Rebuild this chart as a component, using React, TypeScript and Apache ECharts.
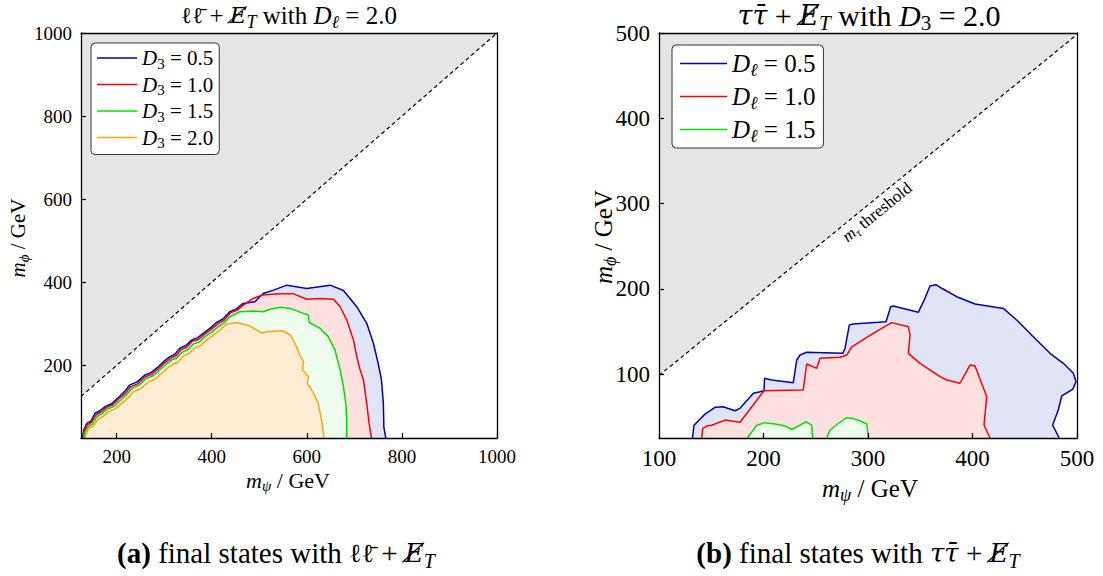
import React, { useEffect, useRef } from "react";
import * as echarts from "echarts";

const FONT = "Liberation Serif";
const MATH = "DejaVu Serif";

// ---------- axes ----------
const leftXRange = [125, 1000];
const leftYRange = [25, 1000];
const rightXRange = [100, 500];
const rightYRange = [25, 500];
const leftXTicks = [200, 400, 600, 800, 1000];
const leftYTicks = [200, 400, 600, 800, 1000];
const rightXTicks = [100, 200, 300, 400, 500];
const rightYTicks = [100, 200, 300, 400, 500];

// thresholds
const leftThreshold = [[125, 125], [1000, 1000]];
const rightThreshold = [[100, 98.2], [500, 498.2]];

// ---------- left panel: ll + MET, D_l = 2.0 ----------
const leftLevels = ["0.5", "1.0", "1.5", "2.0"];
const llD05 = [
  [128, 25], [131, 44], [137, 60], [146, 66], [154, 84], [164, 90], [175, 100], [190, 108], [207, 126],
  [216, 136], [228, 153], [243, 160], [260, 177], [273, 183], [288, 197], [300, 210],
  [312, 221], [322, 226], [333, 241], [346, 248], [358, 261], [370, 266], [382, 277], [396, 289], [410, 303],
  [424, 312], [438, 329], [452, 336], [466, 349], [491, 353],
  [508, 373], [530, 381], [558, 393], [600, 385], [649, 393], [677, 380], [705, 341], [726, 301],
  [740, 253], [750, 205], [757, 165], [761, 108], [762, 52], [766, 25],
];
const llD10 = [
  [129, 25], [132, 42], [138, 56], [147, 63], [156, 80], [166, 87], [178, 98], [192, 105], [208, 123],
  [218, 132], [229, 148], [245, 156], [261, 173], [275, 179], [289, 193], [301, 206],
  [314, 217], [324, 222], [335, 237], [348, 244], [359, 258], [372, 262], [384, 274], [398, 286], [412, 299],
  [426, 309], [440, 327], [454, 333], [466, 345], [487, 361],
  [505, 369], [544, 372], [572, 372], [600, 359], [628, 361], [656, 359], [670, 341], [684, 309],
  [698, 261], [705, 221], [712, 189], [719, 165], [726, 108], [731, 60], [736, 25],
];
const llD15 = [
  [131, 25], [134, 40], [140, 52], [149, 59], [158, 76], [168, 83], [179, 94], [194, 101], [211, 119],
  [220, 128], [232, 145], [247, 152], [263, 169], [277, 175], [291, 189], [303, 202],
  [316, 213], [326, 217], [337, 231], [350, 238], [361, 251], [374, 256], [386, 269], [400, 280], [414, 293],
  [426, 302], [438, 317], [459, 329], [487, 331],
  [508, 329], [523, 335], [544, 340], [565, 337], [593, 325], [603, 321], [605, 303], [628, 289],
  [645, 269], [659, 237], [670, 189], [677, 148], [682, 108], [684, 68], [684, 25],
];
const llD20 = [
  [133, 25], [136, 37], [142, 48], [151, 55], [161, 70], [171, 77], [182, 88], [197, 95], [214, 112],
  [223, 121], [235, 136], [250, 144], [267, 160], [281, 167], [295, 181], [306, 193],
  [319, 203], [329, 208], [340, 222], [353, 229], [365, 243], [377, 248], [389, 261], [403, 272], [417, 285],
  [431, 299], [452, 303], [480, 295],
  [505, 278], [516, 281], [550, 283], [565, 273], [575, 253], [586, 221], [593, 209], [591, 189],
  [603, 173], [601, 157], [614, 133], [624, 108], [631, 68], [636, 25],
];

// ---------- right panel: tau tau + MET, D_3 = 2.0 ----------
const rightLevels = ["0.5", "1.0", "1.5"];
const ttD05 = [
  [132, 25], [133.5, 40], [144, 53], [153.6, 61], [161.5, 61.7], [172.7, 57], [177.5, 59.8],
  [190.3, 77.4], [196.7, 79.3], [200.5, 80.5], [201, 95], [207.8, 93], [228.5, 89.9], [231.8, 116.5],
  [235, 122.3], [241.3, 125.5], [275.8, 124.3], [278, 130], [282.1, 157.5], [286, 158.7],
  [309.9, 160.7], [317.2, 161.4], [321.7, 179], [324.2, 179.8], [348.1, 172.4], [354.5, 188.8],
  [359.3, 203.3], [365, 204.8], [370.5, 200.6], [384.9, 190.7], [402.4, 182.2], [429.5, 177],
  [442.3, 163.4], [458.2, 143.8], [474.2, 124.3], [486.9, 112.6], [496.5, 100.9], [499, 91],
  [495.9, 82], [485.4, 74.3], [482.1, 57.8], [476.7, 40.2], [483, 25],
];
const ttD10 = [
  [140.8, 25], [141.8, 36.4], [145.6, 39], [150.4, 40], [163.2, 46], [177.5, 43.4], [200.5, 80.5],
  [238, 81.3], [241.3, 111.8], [250.9, 106.7], [254, 118.5], [273.2, 119.7], [279.6, 122.3],
  [284.4, 132], [305, 147.8], [314.7, 154.8], [322.7, 160.3], [338.6, 155.6], [340.2, 145.8],
  [338.6, 124.3], [349.8, 112.6], [368.9, 96.9], [375.3, 93], [388, 89.2], [397.6, 110.6],
  [402.4, 109.4], [413.6, 73.4], [411, 40.2], [416.7, 25],
];
const ttD15a = [
  [184.5, 25], [193.5, 40], [201.4, 43], [212.6, 41], [220.6, 39], [227, 35], [240.7, 44],
  [246.1, 40], [247, 25],
];
const ttD15b = [
  [260.5, 25], [263.6, 34.4], [271.6, 42], [279.6, 48.8], [286, 48], [298.8, 41.4], [300.3, 25],
];

// colours
const lineBlue = "#0000b4";
const lineRed = "#ff0000";
const lineGreen = "#00e000";
const lineOrange = "#ffa500";
const fillBlue = "#e1e3f7";
const fillRed = "#ffe0e0";
const fillGreen = "#edfced";
const fillOrange = "#feecd4";
const grayFill = "#e5e5e5";

function richStyles(size: number, colorKey: "color" | "fill") {
  const L = Math.round(size * 1.25);
  const base = (extra: any) => ({
    fontFamily: FONT,
    fontSize: size,
    lineHeight: L,
    [colorKey]: "#000",
    ...extra,
  });
  const sub = Math.round(size * 0.7);
  const pad = Math.round(size * 0.5);
  return {
    r: base({}),
    i: base({ fontStyle: "italic" }),
    m: base({ fontStyle: "italic", fontFamily: MATH, fontSize: Math.round(size * 0.9) }),
    mn: base({ fontFamily: MATH, fontSize: Math.round(size * 0.9) }),
    b: base({ fontWeight: "bold" }),
    s: base({ fontStyle: "italic", fontSize: sub, padding: [pad, 0, 0, 0] }),
    s0: base({ fontSize: sub, padding: [pad, 0, 0, 0] }),
  };
}

function textEl(x: number, y: number, text: string, size: number, rotation = 0) {
  return {
    type: "text",
    x,
    y,
    rotation,
    silent: true,
    style: {
      text,
      rich: richStyles(size, "fill"),
      fontFamily: FONT,
      fontSize: size,
      fill: "#000",
      align: "center",
      verticalAlign: "middle",
    },
  };
}

function fillSeries(pts: number[][], color: string, axis: number, z = 2) {
  return {
    type: "custom",
    xAxisIndex: axis,
    yAxisIndex: axis,
    data: pts,
    silent: true,
    clip: true,
    z,
    renderItem: (params: any, api: any) => {
      if (params.dataIndex !== 0) return null;
      return {
        type: "polygon",
        shape: { points: pts.map((p) => api.coord(p)) },
        style: { fill: color, stroke: "none" },
      };
    },
  };
}

function lineSeries(name: string, pts: number[][], color: string, axis: number) {
  return {
    type: "line",
    name,
    xAxisIndex: axis,
    yAxisIndex: axis,
    data: pts,
    symbol: "none",
    silent: true,
    clip: true,
    z: 3,
    lineStyle: { color, width: 1.5 },
    itemStyle: { color },
  };
}

const fmt = (v: number) => String(v);

function mainXAxis(grid: number, range: number[], ticks: number[], size: number) {
  return {
    type: "value",
    gridIndex: grid,
    min: range[0],
    max: range[1],
    position: "bottom",
    z: 10,
    axisLine: { show: true, onZero: false, lineStyle: { color: "#000", width: 1.3 } },
    axisTick: { show: true, inside: true, length: 5, customValues: ticks, lineStyle: { color: "#000", width: 1.2 } },
    axisLabel: { show: true, customValues: ticks, formatter: fmt, color: "#000", fontFamily: FONT, fontSize: size, margin: 9, hideOverlap: false },
    splitLine: { show: false },
  };
}
function mainYAxis(grid: number, range: number[], ticks: number[], size: number) {
  return {
    type: "value",
    gridIndex: grid,
    min: range[0],
    max: range[1],
    position: "left",
    z: 10,
    axisLine: { show: true, onZero: false, lineStyle: { color: "#000", width: 1.3 } },
    axisTick: { show: true, inside: true, length: 5, customValues: ticks, lineStyle: { color: "#000", width: 1.2 } },
    axisLabel: { show: true, customValues: ticks, formatter: fmt, color: "#000", fontFamily: FONT, fontSize: size, margin: 9, hideOverlap: false },
    splitLine: { show: false },
  };
}
function frameAxis(grid: number, range: number[], position: string) {
  return {
    type: "value",
    gridIndex: grid,
    min: range[0],
    max: range[1],
    position,
    z: 10,
    axisLine: { show: true, onZero: false, lineStyle: { color: "#000", width: 1.3 } },
    axisTick: { show: false },
    axisLabel: { show: false },
    splitLine: { show: false },
  };
}

const leftNames = leftLevels.map((v) => "D3 = " + v);
const rightNames = rightLevels.map((v) => "Dl = " + v);

export default function App() {
  const ref = useRef<HTMLDivElement>(null);
  useEffect(() => {
    if (!ref.current) return;
    const chart = echarts.init(ref.current, null, { renderer: "svg" });
    const leftGray = [...leftThreshold, [leftThreshold[0][0], leftYRange[1]]];
    const rightGray = [...rightThreshold, [rightXRange[1], rightYRange[1]], [rightXRange[0], rightYRange[1]]];

    const option: any = {
      animation: false,
      backgroundColor: "#fff",
      grid: [
        { left: 81, top: 33, width: 416, height: 405, show: false },
        { left: 659, top: 33, width: 418, height: 405, show: false },
      ],
      xAxis: [
        mainXAxis(0, leftXRange, leftXTicks, 19),
        frameAxis(0, leftXRange, "top"),
        mainXAxis(1, rightXRange, rightXTicks, 23),
        frameAxis(1, rightXRange, "top"),
      ],
      yAxis: [
        mainYAxis(0, leftYRange, leftYTicks, 19),
        frameAxis(0, leftYRange, "right"),
        mainYAxis(1, rightYRange, rightYTicks, 23),
        frameAxis(1, rightYRange, "right"),
      ],
      legend: [
        {
          data: leftNames,
          orient: "vertical",
          left: 91,
          top: 43,
          icon: "rect",
          itemWidth: 40,
          itemHeight: 1.6,
          itemGap: 0.5,
          itemTextGap: 4,
          padding: [2, 6, 4, 6],
          backgroundColor: "#fff",
          borderColor: "#333",
          borderWidth: 1,
          borderRadius: 4,
          selectedMode: false,
          textStyle: { fontFamily: FONT, fontSize: 21, color: "#000", rich: richStyles(21, "color") },
          formatter: (name: string) => "{i|D}{s0|3}{r| = " + name.split("= ")[1] + "}",
        },
        {
          data: rightNames,
          orient: "vertical",
          left: 672,
          top: 45,
          icon: "rect",
          itemWidth: 47,
          itemHeight: 1.6,
          itemGap: 2,
          itemTextGap: 4,
          padding: [3, 8, 3, 8],
          backgroundColor: "#fff",
          borderColor: "#333",
          borderWidth: 1,
          borderRadius: 4,
          selectedMode: false,
          textStyle: { fontFamily: FONT, fontSize: 25, color: "#000", rich: richStyles(25, "color") },
          formatter: (name: string) => "{i|D}{s|ℓ}{r| = " + name.split("= ")[1] + "}",
        },
      ],
      series: [
        // left panel
        fillSeries(leftGray, grayFill, 0, 1),
        {
          type: "line", xAxisIndex: 0, yAxisIndex: 0, data: leftThreshold, symbol: "none", silent: true, z: 4,
          lineStyle: { color: "#000", width: 1.2, type: [4, 3] },
        },
        fillSeries(llD05, fillBlue, 0),
        fillSeries(llD10, fillRed, 0),
        fillSeries(llD15, fillGreen, 0),
        fillSeries(llD20, fillOrange, 0),
        lineSeries(leftNames[0], llD05, lineBlue, 0),
        lineSeries(leftNames[1], llD10, lineRed, 0),
        lineSeries(leftNames[2], llD15, lineGreen, 0),
        lineSeries(leftNames[3], llD20, lineOrange, 0),
        // right panel
        fillSeries(rightGray, grayFill, 2, 1),
        {
          type: "line", xAxisIndex: 2, yAxisIndex: 2, data: rightThreshold, symbol: "none", silent: true, z: 4,
          lineStyle: { color: "#000", width: 1.2, type: [4, 3] },
        },
        fillSeries(ttD05, fillBlue, 2),
        fillSeries(ttD10, fillRed, 2),
        fillSeries(ttD15a, fillGreen, 2),
        fillSeries(ttD15b, fillGreen, 2),
        lineSeries(rightNames[0], ttD05, lineBlue, 2),
        lineSeries(rightNames[1], ttD10, lineRed, 2),
        lineSeries(rightNames[2], ttD15a, lineGreen, 2),
        lineSeries(rightNames[2], ttD15b, lineGreen, 2),
      ],
      graphic: [
        textEl(289, 15, "{mn|ℓℓ̄}{r| + }{m|E̸}{s|T}{r| with }{i|D}{s|ℓ}{r| = 2.0}", 25),
        textEl(869, 15, "{m|ττ̄}{r| + }{m|E̸}{s|T}{r| with }{i|D}{s0|3}{r| = 2.0}", 30),
        textEl(288, 480, "{i|m}{s|ψ}{r| / GeV}", 22),
        textEl(870, 488, "{i|m}{s|ψ}{r| / GeV}", 25),
        textEl(18, 238, "{i|m}{s|ϕ}{r| / GeV}", 21, Math.PI / 2),
        textEl(603, 237, "{i|m}{s|ϕ}{r| / GeV}", 25, Math.PI / 2),
        textEl(290, 193, "{r|equal mass threshold}", 14, (41 * Math.PI) / 180),
        textEl(877, 212, "{i|m}{s|τ}{r| threshold}", 17, (39 * Math.PI) / 180),
        textEl(276, 553, "{b|(a)}{r| final states with }{mn|ℓℓ̄}{r| + }{m|E̸}{s|T}", 29),
        textEl(858, 553, "{b|(b)}{r| final states with }{m|ττ̄}{r| + }{m|E̸}{s|T}", 29),
      ],
    };
    chart.setOption(option);
    return () => chart.dispose();
  }, []);
  return (
    <div
      ref={ref}
      style={{ position: "absolute", left: 0, top: 0, width: 1103, height: 576, background: "#fff" }}
    />
  );
}
